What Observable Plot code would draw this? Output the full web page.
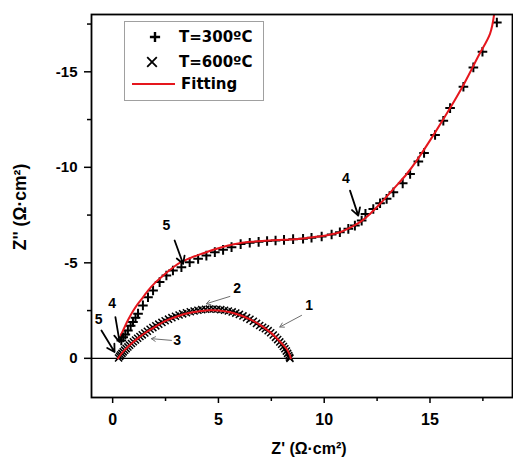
<!DOCTYPE html>
<html>
<head>
<meta charset="utf-8">
<script src="https://cdn.jsdelivr.net/npm/d3@7"></script>
<script src="https://cdn.jsdelivr.net/npm/@observablehq/plot@0.6"></script>
<style>
  html, body { margin: 0; padding: 0; background: white; }
  #chart { width: 513px; height: 459px; }
</style>
</head>
<body>
<div id="chart"></div>
<script>
// ---- Data ----
// T=300ºC measured points (Z', Z'')
const x300 = [0.41, 0.5, 0.6, 0.72, 0.85, 0.96, 1.08, 1.2, 1.43, 1.67, 1.91, 2.22, 2.54, 2.85, 3.25, 3.64, 4.04, 4.43, 4.83, 5.22, 5.62, 6.05, 6.48, 6.9, 7.3, 7.7, 8.1, 8.53, 9.0, 9.4, 9.88, 10.35, 10.74, 11.14, 11.45, 11.77, 11.95, 12.32, 12.64, 12.95, 13.27, 13.71, 14.06, 14.45, 14.72, 15.24, 15.63, 15.95, 16.58, 17.05, 17.48, 18.16];
const y300 = [-0.94, -1.1, -1.25, -1.46, -1.7, -1.9, -2.12, -2.34, -2.77, -3.2, -3.55, -3.99, -4.34, -4.6, -4.77, -5.03, -5.21, -5.38, -5.56, -5.68, -5.82, -5.98, -6.05, -6.1, -6.14, -6.17, -6.2, -6.24, -6.26, -6.31, -6.38, -6.48, -6.6, -6.78, -6.95, -7.21, -7.56, -7.82, -8.12, -8.35, -8.69, -9.16, -9.65, -10.31, -10.75, -11.69, -12.44, -13.1, -14.22, -15.23, -16.05, -17.58];

// T=600ºC measured points (Z', Z'')
const x600 = [0.28, 0.33, 0.38, 0.44, 0.5, 0.57, 0.64, 0.72, 0.8, 0.89, 0.98, 1.08, 1.18, 1.29, 1.4, 1.52, 1.64, 1.77, 1.9, 2.04, 2.18, 2.33, 2.48, 2.64, 2.8, 2.97, 3.14, 3.31, 3.49, 3.67, 3.85, 4.03, 4.21, 4.39, 4.57, 4.75, 4.93, 5.11, 5.29, 5.47, 5.65, 5.82, 5.99, 6.16, 6.33, 6.49, 6.65, 6.8, 6.95, 7.09, 7.22, 7.35, 7.47, 7.59, 7.7, 7.8, 7.9, 7.99, 8.07, 8.14, 8.21, 8.27, 8.32, 8.36, 8.38];
const y600 = [-0.02, -0.1, -0.18, -0.26, -0.34, -0.43, -0.51, -0.6, -0.69, -0.78, -0.87, -0.96, -1.05, -1.14, -1.23, -1.33, -1.42, -1.52, -1.61, -1.7, -1.79, -1.88, -1.97, -2.05, -2.13, -2.2, -2.27, -2.33, -2.39, -2.44, -2.48, -2.52, -2.55, -2.57, -2.58, -2.58, -2.57, -2.55, -2.52, -2.48, -2.43, -2.37, -2.3, -2.22, -2.13, -2.04, -1.94, -1.83, -1.72, -1.63, -1.55, -1.45, -1.34, -1.22, -1.1, -0.98, -0.86, -0.74, -0.62, -0.5, -0.38, -0.26, -0.15, -0.06, 0];

// Fitting curves
const fit300X = [0.38, 0.55, 0.72, 0.95, 1.2, 1.45, 1.67, 2.0, 2.3, 2.7, 3.09, 3.6, 4.2, 4.8, 5.46, 6.0, 6.56, 7.2, 7.8, 8.38, 9.0, 9.6, 10.2, 10.74, 11.2, 11.69, 12.2, 12.64, 13.3, 13.9, 14.37, 15.2, 15.95, 16.6, 17.3, 17.84, 18.03];
const fit300Y = [-1.2, -1.6, -1.99, -2.45, -2.86, -3.22, -3.55, -3.95, -4.25, -4.62, -4.95, -5.22, -5.47, -5.7, -5.91, -6.03, -6.1, -6.15, -6.19, -6.22, -6.27, -6.36, -6.46, -6.6, -6.83, -7.13, -7.6, -8.09, -8.9, -9.65, -10.35, -11.75, -13.1, -14.35, -15.85, -17.0, -18.0];
const fit600X = [0.25, 0.5, 0.8, 1.2, 1.6, 2.0, 2.5, 3.0, 3.6, 4.2, 4.6, 5.0, 5.5, 6.0, 6.5, 7.0, 7.5, 7.8, 8.1, 8.25, 8.38, 8.42];
const fit600Y = [0, -0.35, -0.68, -1.06, -1.38, -1.65, -1.96, -2.18, -2.37, -2.48, -2.52, -2.51, -2.43, -2.27, -2.04, -1.73, -1.32, -1.0, -0.65, -0.45, -0.15, 0];

// Annotations: number labels and their arrows (from -> to)
const annText = ["5", "4", "5", "4", "3", "2", "1"];
const annX = [2.54, 11.03, -0.66, -0.03, 3.05, 5.88, 9.29];
const annY = [-6.95, -9.39, -2.02, -2.89, -0.94, -3.64, -2.77];
const arrX1 = [2.93, 11.22, -0.53, 0.13, 2.78, 5.54, 8.93];
const arrY1 = [-6.17, -8.78, -1.46, -2.16, -0.94, -3.24, -2.25];
const arrX2 = [3.33, 11.61, 0.09, 0.33, 1.83, 4.43, 7.9];
const arrY2 = [-4.95, -7.47, -0.33, -0.85, -1.03, -2.86, -1.64];
const arrKind = ["bold", "bold", "bold", "bold", "thin", "thin", "thin"];

// Axes
const xMajor = [0, 5, 10, 15];
const xMinor = [2.5, 7.5, 12.5, 17.5];
const yMajor = [0, -5, -10, -15];
const yMinor = [-2.5, -7.5, -12.5, -17.5];
const xLabel = ["Z' (Ω·cm²)"];
const yLabel = ["Z'' (Ω·cm²)"];
const legendLabels = ["T=300ºC", "T=600ºC", "Fitting"];

// ---- Build tables ----
const d300 = x300.map((x, i) => ({x, y: y300[i]}));
const d600 = x600.map((x, i) => ({x, y: y600[i]}));
const f300 = fit300X.map((x, i) => ({x, y: fit300Y[i]}));
const f600 = fit600X.map((x, i) => ({x, y: fit600Y[i]}));
const ann = annText.map((t, i) => ({t, x: annX[i], y: annY[i], x1: arrX1[i], y1: arrY1[i], x2: arrX2[i], y2: arrY2[i], kind: arrKind[i]}));

const RED = "#e5161d";
const FONT = "'Liberation Sans', Arial, Helvetica, sans-serif";

const svg = Plot.plot({
  width: 513,
  height: 459,
  marginLeft: 91,
  marginTop: 14,
  marginRight: 1,
  marginBottom: 62,
  x: {domain: [-1, 18.9]},
  y: {domain: [2.05, -18]},
  style: {fontFamily: FONT, fontWeight: "bold", background: "white", color: "black", overflow: "visible"},
  marks: [
    Plot.ruleY([0], {stroke: "black", strokeWidth: 1.3}),
    Plot.dot(d600, {x: "x", y: "y", symbol: "times", r: 3.3, stroke: "black", strokeWidth: 1.5}),
    Plot.dot(d300, {x: "x", y: "y", symbol: "plus", r: 3.2, stroke: "black", strokeWidth: 2}),
    Plot.line(f600, {x: "x", y: "y", stroke: RED, strokeWidth: 2, curve: "catmull-rom"}),
    Plot.line(f300, {x: "x", y: "y", stroke: RED, strokeWidth: 2, curve: "catmull-rom", clip: true}),
    Plot.arrow(ann.filter(d => d.kind === "bold"), {x1: "x1", y1: "y1", x2: "x2", y2: "y2", stroke: "black", strokeWidth: 1.8, headLength: 7}),
    Plot.arrow(ann.filter(d => d.kind === "thin"), {x1: "x1", y1: "y1", x2: "x2", y2: "y2", stroke: "#6f6f6f", strokeWidth: 1, headLength: 7}),
    Plot.text(ann, {x: "x", y: "y", text: "t", fontSize: 14, fontWeight: "bold", fill: "black"}),
    Plot.frame({stroke: "black", strokeWidth: 1.8}),
    Plot.axisX({ticks: xMajor, tickSize: 6, tickPadding: 10, fontSize: 16, fontWeight: "bold", strokeWidth: 1.5, tickFormat: d => String(d), label: null}),
    Plot.axisX({ticks: xMinor, tickSize: 4, strokeWidth: 1.5, tickFormat: () => "", label: null}),
    Plot.axisY({ticks: yMajor, tickSize: 7, tickPadding: 7, fontSize: 15, fontWeight: "bold", strokeWidth: 1.5, tickFormat: d => String(d), label: null}),
    Plot.axisY({ticks: yMinor, tickSize: 4, strokeWidth: 1.5, tickFormat: () => "", label: null}),
    Plot.text(xLabel, {frameAnchor: "bottom", dy: 56, dx: 7, textAnchor: "middle", fontSize: 16, fontWeight: "bold", fill: "black"}),
    Plot.text(yLabel, {frameAnchor: "left", dx: -71, dy: 1, rotate: -90, textAnchor: "middle", lineAnchor: "middle", fontSize: 17.5, fontWeight: "bold", fill: "black"})
  ]
});

// Legend (inside the plot frame, top-left)
const lg = d3.select(svg).append("g").attr("font-family", "'DejaVu Sans', sans-serif").attr("font-weight", "bold")
  .attr("font-size", 15).attr("text-anchor", "start");
lg.append("rect").attr("x", 124.5).attr("y", 21.5).attr("width", 139).attr("height", 79)
  .attr("fill", "white").attr("stroke", "#a0a0a0").attr("stroke-width", 1);
lg.append("path").attr("transform", "translate(155,37)")
  .attr("d", d3.symbol(d3.symbolPlus, 36)()).attr("fill", "none").attr("stroke", "black").attr("stroke-width", 2.4);
lg.append("path").attr("transform", "translate(152,62)")
  .attr("d", d3.symbol(d3.symbolTimes, 62)()).attr("fill", "none").attr("stroke", "black").attr("stroke-width", 1.8);
lg.append("line").attr("x1", 132).attr("x2", 175).attr("y1", 84).attr("y2", 84)
  .attr("stroke", RED).attr("stroke-width", 2);
const ly = [37, 62, 84];
const lx = [179, 179, 181];
legendLabels.forEach((t, i) => {
  lg.append("text").attr("x", lx[i]).attr("y", ly[i]).attr("dy", "0.35em")
    .attr("text-anchor", "start").attr("fill", "black").text(t);
});

document.getElementById("chart").appendChild(svg);
</script>
</body>
</html>
